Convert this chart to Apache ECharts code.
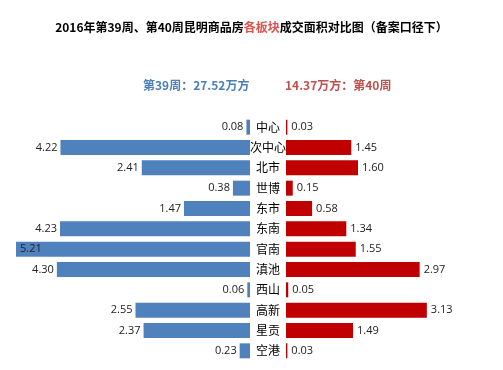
<!DOCTYPE html>
<html><head><meta charset="utf-8">
<script src="https://cdn.jsdelivr.net/npm/echarts@6/dist/echarts.min.js"></script>
<style>html,body{margin:0;padding:0;background:#fff}#c{width:503px;height:370px}</style>
</head><body><div id="c"></div>
<script>
const categories = ['中心','次中心','北市','世博','东市','东南','官南','滇池','西山','高新','星贡','空港'];
const week39 = [0.08,4.22,2.41,0.38,1.47,4.23,5.21,4.30,0.06,2.55,2.37,0.23];
const week40 = [0.03,1.45,1.60,0.15,0.58,1.34,1.55,2.97,0.05,3.13,1.49,0.03];
const titleText = ['2016年第39周、第40周昆明商品房','各板块','成交面积对比图（备案口径下）'];
const leftSub = '第39周：27.52万方';
const rightSub = '14.37万方：第40周';

const BLUE = '#4F81BD', RED = '#C00000';
const chart = echarts.init(document.getElementById('c'), null, {renderer:'canvas'});
const gridTop = 117, gridBottom = 9;
const lblFont = 'Open Sans, Noto Sans, sans-serif';
chart.setOption({
  animation:false,
  backgroundColor:'#fff',
  title:{
    text:'{a|'+titleText[0]+'}{b|'+titleText[1]+'}{a|'+titleText[2]+'}',
    left:'center', top:16,
    textStyle:{rich:{
      a:{fontSize:12,fontWeight:'bold',color:'#000',fontFamily:'Noto Sans CJK SC'},
      b:{fontSize:12,fontWeight:'bold',color:'#D9534F',fontFamily:'Noto Sans CJK SC'}
    }}
  },
  graphic:[
    {type:'text',left:143,top:79,style:{text:leftSub,fill:'#4A7EBB',font:'bold 12px "Noto Sans CJK SC"'}},
    {type:'text',left:285,top:79,style:{text:rightSub,fill:'#C0504D',font:'bold 12px "Noto Sans CJK SC"'}}
  ],
  grid:[
    {left:16,width:234,top:gridTop,bottom:gridBottom},
    {left:286,width:180,top:gridTop,bottom:gridBottom}
  ],
  xAxis:[
    {gridIndex:0,type:'value',min:0,max:5.21,inverse:true,show:false},
    {gridIndex:1,type:'value',min:0,max:4,show:false}
  ],
  yAxis:[
    {gridIndex:0,type:'category',data:categories,inverse:true,position:'right',
     axisLine:{show:false},axisTick:{show:false},
     axisLabel:{align:'center',margin:18,fontSize:12,color:'#000',fontFamily:'Noto Sans CJK SC'}},
    {gridIndex:1,type:'category',data:categories,inverse:true,show:false}
  ],
  series:[
    {type:'bar',xAxisIndex:0,yAxisIndex:0,data:week39.map((v,i)=>({value:v,
        label: v>=5 ? {position:'insideLeft',distance:4} : undefined})),
     barWidth:15,itemStyle:{color:BLUE},
     label:{show:true,position:'left',distance:3,formatter:p=>p.value.toFixed(2),
       fontSize:11,color:'#222',fontFamily:lblFont}},
    {type:'bar',xAxisIndex:1,yAxisIndex:1,data:week40,barWidth:15,itemStyle:{color:RED},
     label:{show:true,position:'right',distance:4,formatter:p=>p.value.toFixed(2),
       fontSize:11,color:'#222',fontFamily:lblFont}}
  ]
});
</script></body></html>
